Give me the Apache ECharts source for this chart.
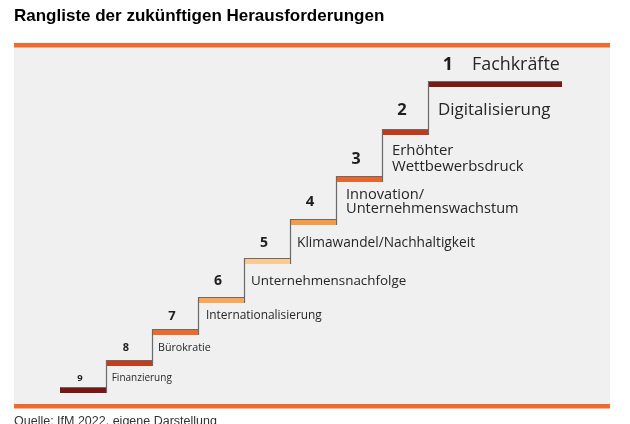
<!DOCTYPE html>
<html>
<head>
<meta charset="utf-8">
<script src="https://cdn.jsdelivr.net/npm/echarts@6/dist/echarts.min.js"></script>
<style>
html,body{margin:0;padding:0;background:#fff;}
#chart{width:630px;height:424px;}
</style>
</head>
<body>
<div id="chart"></div>
<script>
// ---- data (rank order 1..9) ----
const ranks = ['1', '2', '3', '4', '5', '6', '7', '8', '9'];
const challenges = [
  'Fachkräfte',
  'Digitalisierung',
  'Erhöhter\nWettbewerbsdruck',
  'Innovation/\nUnternehmenswachstum',
  'Klimawandel/Nachhaltigkeit',
  'Unternehmensnachfolge',
  'Internationalisierung',
  'Bürokratie',
  'Finanzierung'
];
// schematic step heights (height of each tread above the lowest one)
const stepHeights = [306, 258, 211, 168, 129, 90, 58, 27, 0];
// tread length of each step (in step units)
const stepSpans = [2.913, 1, 1, 1, 1, 1, 1, 1, 1];

// ---- styles ----
const stepColors = ['#7c1a12', '#c13a1c', '#e9642b', '#f49b48', '#fcc993', '#f7a65a', '#ec6a2a', '#c43c1d', '#7a1515'];
const labelSizes = [17.9, 16.9, 14.9, 14.6, 13.7, 13.4, 11.9, 10.7, 10];
const numberSizes = [18, 16.5, 16, 15, 14, 14, 13, 11, 9.5];
const labelGaps = [16, 19, 17, 17, 15, 16, 13, 12.5, 9];
const labelLineHeights = [20, 18, 16.5, 14, 15, 15, 13, 12, 11];
const labelOffsets = [44, 10, 10, 10, 7, 7, 8, 6, 5.7];

// build step data: [xStart, xEnd, level, prevLevel, index]
const n = ranks.length;
const stepData = [];
for (let i = 0; i < n; i++) {
  const xStart = n - 1 - i;
  const xEnd = xStart + stepSpans[i];
  const prev = i < n - 1 ? stepHeights[i + 1] : stepHeights[i];
  stepData.push([xStart, xEnd, stepHeights[i], prev, i]);
}
const xMax = (n - 1) + stepSpans[0];

const chart = echarts.init(document.getElementById('chart'), null, {renderer: 'canvas'});

function renderStep(params, api) {
  const i = api.value(4);
  const x0 = api.value(0), x1 = api.value(1), lvl = api.value(2), prev = api.value(3);
  const p0 = api.coord([x0, lvl]);
  const p1 = api.coord([x1, lvl]);
  const pp = api.coord([x0, prev]);
  const th = 6;
  const children = [];
  children.push({
    type: 'rect',
    shape: {x: p0[0], y: p0[1], width: p1[0] - p0[0], height: th},
    style: {fill: stepColors[i]}
  });
  const pts = [];
  if (i < n - 1) pts.push([Math.round(p0[0]) + 0.5, pp[1] + th]);
  pts.push([Math.round(p0[0]) + 0.5, Math.round(p0[1]) + 0.5]);
  pts.push([p1[0], Math.round(p0[1]) + 0.5]);
  children.push({
    type: 'polyline',
    shape: {points: pts},
    style: {stroke: '#6a6a6a', lineWidth: 1.2, fill: null}
  });
  const cy = p0[1] - labelGaps[i];
  children.push({
    type: 'text',
    x: p0[0] + 20, y: cy,
    style: {
      text: ranks[i], fill: '#1e1e1e', fontSize: numberSizes[i], fontWeight: 'bold',
      fontFamily: '"Open Sans", sans-serif', align: 'center', verticalAlign: 'middle'
    }
  });
  const lx = i === 0 ? p0[0] + labelOffsets[i] : p1[0] + labelOffsets[i];
  children.push({
    type: 'text',
    x: lx, y: cy,
    style: {
      text: challenges[i], fill: '#262626', fontSize: labelSizes[i],
      fontFamily: '"Open Sans", sans-serif', align: 'left', verticalAlign: 'middle',
      lineHeight: labelLineHeights[i]
    }
  });
  return {type: 'group', children: children};
}

chart.setOption({
  animation: false,
  title: [
    {
      text: 'Rangliste der zukünftigen Herausforderungen',
      left: 14, top: 8, padding: 0,
      textStyle: {fontFamily: '"Liberation Sans", Arial, sans-serif', fontWeight: 'bold', fontSize: 17, color: '#000'}
    },
    {
      text: 'Quelle: IfM 2022, eigene Darstellung',
      left: 14, top: 415.5, padding: 0,
      textStyle: {fontFamily: '"Liberation Sans", Arial, sans-serif', fontWeight: 'normal', fontSize: 12.5, color: '#333'}
    }
  ],
  graphic: [
    {type: 'rect', z: -10, shape: {x: 14, y: 47, width: 596, height: 357}, style: {fill: '#f0f0f0'}},
    {type: 'rect', z: -5, shape: {x: 14, y: 43, width: 596, height: 4.5}, style: {fill: '#f26a2b'}},
    {type: 'rect', z: -5, shape: {x: 14, y: 404, width: 596, height: 4.5}, style: {fill: '#f26a2b'}}
  ],
  grid: {left: 60, right: 68, top: 81, bottom: 37},
  xAxis: {type: 'value', min: 0, max: xMax, show: false},
  yAxis: {type: 'value', min: 0, max: stepHeights[0], show: false},
  series: [{
    type: 'custom',
    renderItem: renderStep,
    encode: {x: [0, 1], y: [2, 3]},
    data: stepData,
    clip: false
  }]
});
</script>
</body>
</html>
